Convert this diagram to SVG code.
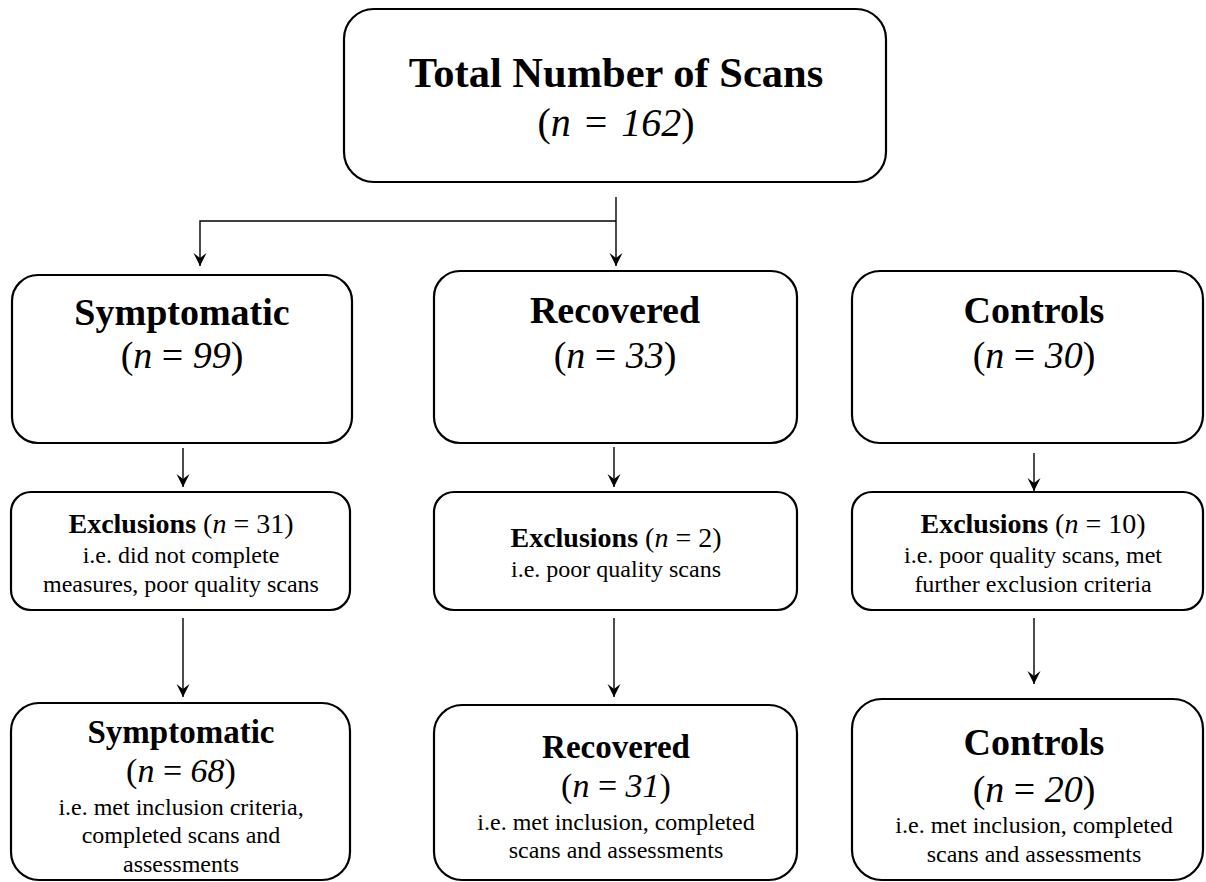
<svg xmlns="http://www.w3.org/2000/svg" width="1206" height="882" viewBox="0 0 1206 882">
<style>
  .box { fill: #ffffff; stroke: #000000; stroke-width: 2.2; }
  .conn { fill: none; stroke: #000000; stroke-width: 1.4; }
  text { font-family: "Liberation Serif", "Times New Roman", serif; fill: #000000; text-anchor: middle; }
  .b { font-weight: bold; }
  .i { font-style: italic; }
  .t42 { font-size: 42.5px; }
  .t40 { font-size: 40px; }
  .t38 { font-size: 38px; }
  .t33 { font-size: 33px; }
  .t34 { font-size: 34px; }
  .t28 { font-size: 28px; }
  .t24 { font-size: 24px; }
</style>
<defs>
  <marker id="arr" viewBox="-14 -7 15 14" refX="0" refY="0" markerWidth="15" markerHeight="14" markerUnits="userSpaceOnUse" orient="auto">
    <path d="M0,0 L-13,-6.5 L-8,0 L-13,6.5 Z" fill="#000000"/>
  </marker>
</defs>
<rect width="1206" height="882" fill="#ffffff"/>

<g id="connectors">
  <path class="conn" d="M616,197 V266" marker-end="url(#arr)"/>
  <path class="conn" d="M616,221 H200 V266" marker-end="url(#arr)"/>
  <path class="conn" d="M183,448 V487" marker-end="url(#arr)"/>
  <path class="conn" d="M183,618 V697" marker-end="url(#arr)"/>
  <path class="conn" d="M614,447 V487" marker-end="url(#arr)"/>
  <path class="conn" d="M614,618 V697" marker-end="url(#arr)"/>
  <path class="conn" d="M1034,453 V491" marker-end="url(#arr)"/>
  <path class="conn" d="M1034,618 V684" marker-end="url(#arr)"/>
</g>

<g id="total">
  <rect class="box" x="344" y="9" width="542" height="173" rx="30" ry="30"/>
  <text class="b t42" x="616" y="87">Total Number of Scans</text>
  <text class="t40" x="616" y="136">(<tspan class="i">n</tspan><tspan dx="4"> = </tspan><tspan class="i" dx="4">162</tspan>)</text>
</g>

<g id="symptomatic">
  <rect class="box" x="12" y="275" width="340" height="168" rx="26" ry="26"/>
  <text class="b t38" x="182" y="325">Symptomatic</text>
  <text class="t38" x="182" y="368">(<tspan class="i">n</tspan> = <tspan class="i">99</tspan>)</text>
</g>

<g id="recovered">
  <rect class="box" x="434" y="271" width="363" height="172" rx="26" ry="26"/>
  <text class="b t38" x="615" y="323">Recovered</text>
  <text class="t38" x="615" y="368">(<tspan class="i">n</tspan> = <tspan class="i">33</tspan>)</text>
</g>

<g id="controls">
  <rect class="box" x="852" y="271" width="351" height="172" rx="28" ry="28"/>
  <text class="b t38" x="1034" y="323">Controls</text>
  <text class="t38" x="1034" y="368">(<tspan class="i">n</tspan> = <tspan class="i">30</tspan>)</text>
</g>

<g id="excl-symptomatic">
  <rect class="box" x="11" y="492" width="339" height="118" rx="20" ry="20"/>
  <text class="t28" x="181" y="533"><tspan class="b">Exclusions</tspan> (<tspan class="i">n</tspan> = 31)</text>
  <text class="t24" x="181" y="563">i.e. did not complete</text>
  <text class="t24" x="181" y="592">measures, poor quality scans</text>
</g>

<g id="excl-recovered">
  <rect class="box" x="434" y="492" width="363" height="118" rx="20" ry="20"/>
  <text class="t28" x="616" y="547"><tspan class="b">Exclusions</tspan> (<tspan class="i">n</tspan> = 2)</text>
  <text class="t24" x="616" y="577">i.e. poor quality scans</text>
</g>

<g id="excl-controls">
  <rect class="box" x="852" y="492" width="351" height="118" rx="20" ry="20"/>
  <text class="t28" x="1033" y="533"><tspan class="b">Exclusions</tspan> (<tspan class="i">n</tspan> = 10)</text>
  <text class="t24" x="1033" y="563">i.e. poor quality scans, met</text>
  <text class="t24" x="1033" y="592">further exclusion criteria</text>
</g>

<g id="final-symptomatic">
  <rect class="box" x="11" y="703" width="339" height="177" rx="28" ry="28"/>
  <text class="b t33" x="181" y="743">Symptomatic</text>
  <text class="t34" x="181" y="782">(<tspan class="i">n</tspan> = <tspan class="i">68</tspan>)</text>
  <text class="t24" x="181" y="815">i.e. met inclusion criteria,</text>
  <text class="t24" x="181" y="843">completed scans and</text>
  <text class="t24" x="181" y="872">assessments</text>
</g>

<g id="final-recovered">
  <rect class="box" x="434" y="705" width="363" height="175" rx="28" ry="28"/>
  <text class="b t33" x="616" y="758">Recovered</text>
  <text class="t34" x="616" y="797">(<tspan class="i">n</tspan> = <tspan class="i">31</tspan>)</text>
  <text class="t24" x="616" y="830">i.e. met inclusion, completed</text>
  <text class="t24" x="616" y="858">scans and assessments</text>
</g>

<g id="final-controls">
  <rect class="box" x="852" y="699" width="351" height="181" rx="30" ry="30"/>
  <text class="b t38" x="1034" y="755">Controls</text>
  <text class="t38" x="1034" y="802">(<tspan class="i">n</tspan> = <tspan class="i">20</tspan>)</text>
  <text class="t24" x="1034" y="833">i.e. met inclusion, completed</text>
  <text class="t24" x="1034" y="862">scans and assessments</text>
</g>
</svg>
